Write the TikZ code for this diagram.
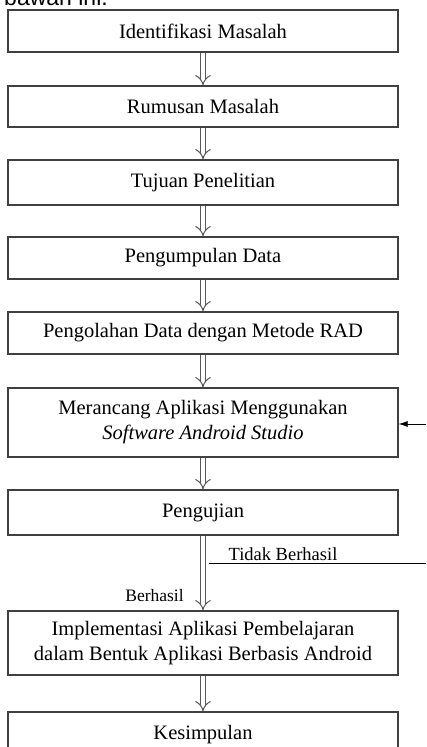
\documentclass[tikz,border=0pt]{standalone}
\usepackage{fontspec}
\setmainfont{Liberation Serif}
\newfontfamily\sansf{Liberation Sans}
\usetikzlibrary{arrows.meta}
\begin{document}
\begin{tikzpicture}[x=1pt,y=1pt,
  stepbox/.style={draw=black!75, line width=1.3pt, minimum width=390pt, inner sep=0pt, align=center, font=\fontsize{20.5}{25}\selectfont},
  hollow/.style={draw=black!65, double=white, double distance=4.5pt, line width=1pt, -{Implies}},
  lbl/.style={font=\fontsize{17.5}{20}\selectfont, inner sep=0pt},
  thinline/.style={draw=black, line width=1pt}
]
\useasboundingbox (0,0) rectangle (426,747);
\fill[white] (0,0) rectangle (426,747);
\node[anchor=base east, font=\sansf\fontsize{23}{26}\selectfont, inner sep=0pt] (top) at (108,741.5) {bawah ini.};

\node[stepbox, minimum height=42pt] (n1) at (203,716) {Identifikasi Masalah};
\node[stepbox, minimum height=41pt] (n2) at (203,640.5) {Rumusan Masalah};
\node[stepbox, minimum height=45pt] (n3) at (203,564.5) {Tujuan Penelitian};
\node[stepbox, minimum height=42pt] (n4) at (203,489) {Pengumpulan Data};
\node[stepbox, minimum height=42pt] (n5) at (203,414) {Pengolahan Data dengan Metode RAD};
\node[stepbox, minimum height=69pt] (n6) at (203,324.5) {Merancang Aplikasi Menggunakan\\\textit{Software Android Studio}};
\node[stepbox, minimum height=45pt] (n7) at (203,234.5) {Pengujian};
\node[stepbox, minimum height=64pt] (n8) at (203,104) {Implementasi Aplikasi Pembelajaran\\dalam Bentuk Aplikasi Berbasis Android};
\node[stepbox, minimum height=45pt] (n9) at (203,12.5) {Kesimpulan};

\draw[hollow] (n1.south) -- (n2.north);
\draw[hollow] (n2.south) -- (n3.north);
\draw[hollow] (n3.south) -- (n4.north);
\draw[hollow] (n4.south) -- (n5.north);
\draw[hollow] (n5.south) -- (n6.north);
\draw[hollow] (n6.south) -- (n7.north);
\draw[hollow] (n7.south) -- (n8.north);
\draw[hollow] (n8.south) -- (n9.north);

\coordinate (tbs) at (209,183);
\coordinate (tbe) at (426,183);
\draw[thinline] (tbs) -- (tbe);
\node[lbl, font=\fontsize{18.5}{21}\selectfont, anchor=base] (tidak) at (283,186) {Tidak Berhasil};
\node[lbl] (berhasil) at (154.5,151) {Berhasil};

\coordinate (inr) at (426,323);
\draw[thinline, line width=0.8pt, -{Latex[length=9pt,width=6pt]}] (inr) -- (inr -| n6.east);
\end{tikzpicture}
\end{document}
